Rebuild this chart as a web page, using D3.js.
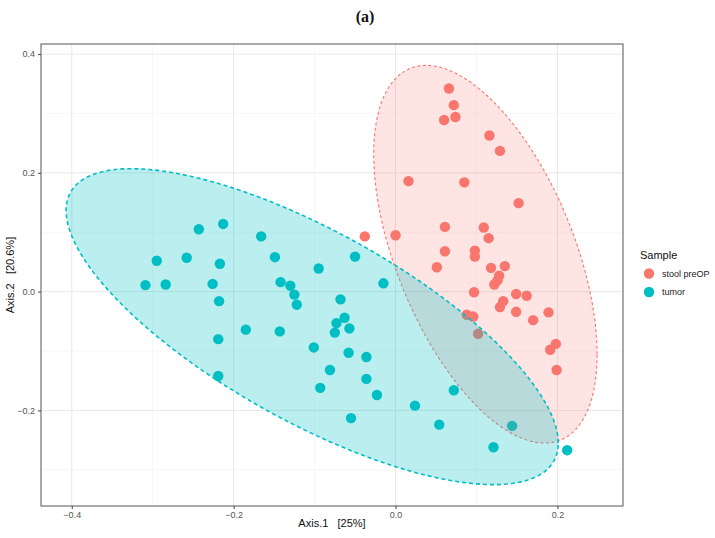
<!DOCTYPE html>
<html><head><meta charset="utf-8">
<script src="https://cdn.jsdelivr.net/npm/d3@7"></script>
<style>body{margin:0;background:#fff}svg{display:block}</style>
</head><body>
<script>
// ---------- data ----------
const titleText = "(a)";
const xLabel = "Axis.1   [25%]";
const yLabel = "Axis.2   [20.6%]";
const legendTitle = "Sample";
const groups = ["stool preOP", "tumor"];
const xTicks = [-0.4, -0.2, 0.0, 0.2];
const xMinor = [-0.3, -0.1, 0.1];
const yTicks = [-0.2, 0.0, 0.2, 0.4];
const yMinor = [-0.3, -0.1, 0.1, 0.3];

const stoolX = [0.066,0.072,0.060,0.074,0.116,0.129,0.016,0.085,0.152,0.061,0.109,0.115,0.000,-0.038,0.061,0.098,0.098,0.051,0.118,0.135,0.128,0.126,0.122,0.097,0.149,0.162,0.133,0.129,0.149,0.189,0.170,0.088,0.096,0.102,0.198,0.191,0.199];
const stoolY = [0.342,0.314,0.289,0.294,0.263,0.237,0.186,0.184,0.149,0.109,0.108,0.090,0.095,0.093,0.068,0.069,0.059,0.041,0.040,0.043,0.027,0.019,0.012,-0.001,-0.004,-0.007,-0.016,-0.026,-0.034,-0.035,-0.048,-0.039,-0.042,-0.071,-0.088,-0.098,-0.132];

const tumorX = [-0.243,-0.213,-0.166,-0.295,-0.258,-0.217,-0.149,-0.095,-0.309,-0.284,-0.226,-0.142,-0.130,-0.125,-0.122,-0.218,-0.068,-0.185,-0.143,-0.219,-0.073,-0.075,-0.101,-0.081,-0.219,-0.093,-0.050,-0.015,-0.063,-0.057,-0.058,-0.036,-0.036,-0.023,0.072,0.024,-0.055,0.054,0.144,0.121,0.212];
const tumorY = [0.105,0.114,0.093,0.052,0.057,0.047,0.058,0.039,0.011,0.012,0.013,0.016,0.010,-0.005,-0.022,-0.016,-0.013,-0.064,-0.067,-0.080,-0.053,-0.069,-0.094,-0.132,-0.142,-0.162,0.059,0.014,-0.044,-0.062,-0.103,-0.110,-0.147,-0.174,-0.166,-0.192,-0.213,-0.224,-0.226,-0.262,-0.267];

// ellipse estimates (data units): centre, half-extent in x, half-extent in y, correlation
const ellipseCX = [0.111, -0.103];
const ellipseCY = [0.063, -0.059];
const ellipseRX = [0.138, 0.304];
const ellipseRY = [0.318, 0.266];
const ellipseRho = [-0.53, -0.736];

const colors = ["#F8766D", "#00BFC4"];

// ---------- layout ----------
const W = 715, H = 538;
const P = {left: 41, right: 623, top: 44, bottom: 506};
const svg = d3.select("body").append("svg").attr("width", W).attr("height", H);
const font = "'Liberation Sans', Arial, Helvetica, sans-serif";

const x = d3.scaleLinear().domain([-0.438, 0.281]).range([P.left, P.right]);
const y = d3.scaleLinear().domain([-0.361, 0.417]).range([P.bottom, P.top]);

// title
svg.append("text").attr("x", 365).attr("y", 22).attr("text-anchor", "middle")
  .attr("font-family", "'Liberation Serif', 'DejaVu Serif', serif").attr("font-weight", "bold")
  .attr("font-size", 16).attr("fill", "#111").text(titleText);

// panel background
svg.append("rect").attr("x", P.left).attr("y", P.top).attr("width", P.right - P.left)
  .attr("height", P.bottom - P.top).attr("fill", "#fff");

const grid = svg.append("g");
xMinor.forEach(v => grid.append("line").attr("x1", x(v)).attr("x2", x(v)).attr("y1", P.top).attr("y2", P.bottom)
  .attr("stroke", "#f1f1f1").attr("stroke-width", 0.6));
yMinor.forEach(v => grid.append("line").attr("y1", y(v)).attr("y2", y(v)).attr("x1", P.left).attr("x2", P.right)
  .attr("stroke", "#f1f1f1").attr("stroke-width", 0.6));
xTicks.forEach(v => grid.append("line").attr("x1", x(v)).attr("x2", x(v)).attr("y1", P.top).attr("y2", P.bottom)
  .attr("stroke", "#e8e8e8").attr("stroke-width", 1));
yTicks.forEach(v => grid.append("line").attr("y1", y(v)).attr("y2", y(v)).attr("x1", P.left).attr("x2", P.right)
  .attr("stroke", "#e8e8e8").attr("stroke-width", 1));

// points
const pts = svg.append("g");
const series = [d3.zip(stoolX, stoolY), d3.zip(tumorX, tumorY)];
series.forEach((s, i) => {
  pts.selectAll(null).data(s).enter().append("circle")
    .attr("cx", d => x(d[0])).attr("cy", d => y(d[1])).attr("r", 5.2)
    .attr("fill", colors[i]);
});

// ellipses
const line = d3.line().x(d => x(d[0])).y(d => y(d[1])).curve(d3.curveLinearClosed);
groups.forEach((g, i) => {
  const n = 200, pts2 = [];
  const r = ellipseRho[i], s = Math.sqrt(1 - r * r);
  for (let k = 0; k < n; k++) {
    const t = 2 * Math.PI * k / n;
    pts2.push([ellipseCX[i] + ellipseRX[i] * Math.cos(t),
               ellipseCY[i] + ellipseRY[i] * (r * Math.cos(t) + s * Math.sin(t))]);
  }
  svg.append("path").attr("d", line(pts2))
    .attr("fill", colors[i]).attr("fill-opacity", i === 0 ? 0.2 : 0.27)
    .attr("stroke", colors[i]).attr("stroke-width", i === 0 ? 1.1 : 1.6)
    .attr("stroke-dasharray", i === 0 ? "3,2.5" : "4,3");
});

// border
svg.append("rect").attr("x", P.left).attr("y", P.top).attr("width", P.right - P.left)
  .attr("height", P.bottom - P.top).attr("fill", "none").attr("stroke", "#555").attr("stroke-width", 1);

// axes
const xAxis = svg.append("g").attr("transform", `translate(0,${P.bottom})`)
  .call(d3.axisBottom(x).tickValues(xTicks).tickSize(3).tickPadding(3).tickFormat(d3.format(".1f")));
const yAxis = svg.append("g").attr("transform", `translate(${P.left},0)`)
  .call(d3.axisLeft(y).tickValues(yTicks).tickSize(3).tickPadding(3).tickFormat(d3.format(".1f")));
[xAxis, yAxis].forEach(a => {
  a.select(".domain").remove();
  a.selectAll(".tick line").attr("stroke", "#444");
  a.selectAll(".tick text").attr("fill", "#555").attr("font-size", 9).attr("font-family", font);
});

svg.append("text").attr("x", (P.left + P.right) / 2).attr("y", 527).attr("text-anchor", "middle")
  .attr("font-family", font).attr("font-size", 11).attr("fill", "#111").attr("xml:space", "preserve")
  .style("white-space", "pre").text(xLabel);
svg.append("text").attr("transform", `translate(14,${(P.top + P.bottom) / 2}) rotate(-90)`)
  .attr("text-anchor", "middle").attr("font-family", font).attr("font-size", 11).attr("fill", "#111")
  .style("white-space", "pre").text(yLabel);

// legend
const lg = svg.append("g");
lg.append("text").attr("x", 640).attr("y", 259).attr("font-family", font).attr("font-size", 11)
  .attr("fill", "#111").text(legendTitle);
groups.forEach((g, i) => {
  const cy = 273.5 + i * 18.5;
  lg.append("circle").attr("cx", 649).attr("cy", cy).attr("r", 5.2).attr("fill", colors[i]);
  lg.append("text").attr("x", 662).attr("y", cy + 3).attr("font-family", font).attr("font-size", 9)
    .attr("fill", "#222").text(g);
});
</script>
</body></html>
